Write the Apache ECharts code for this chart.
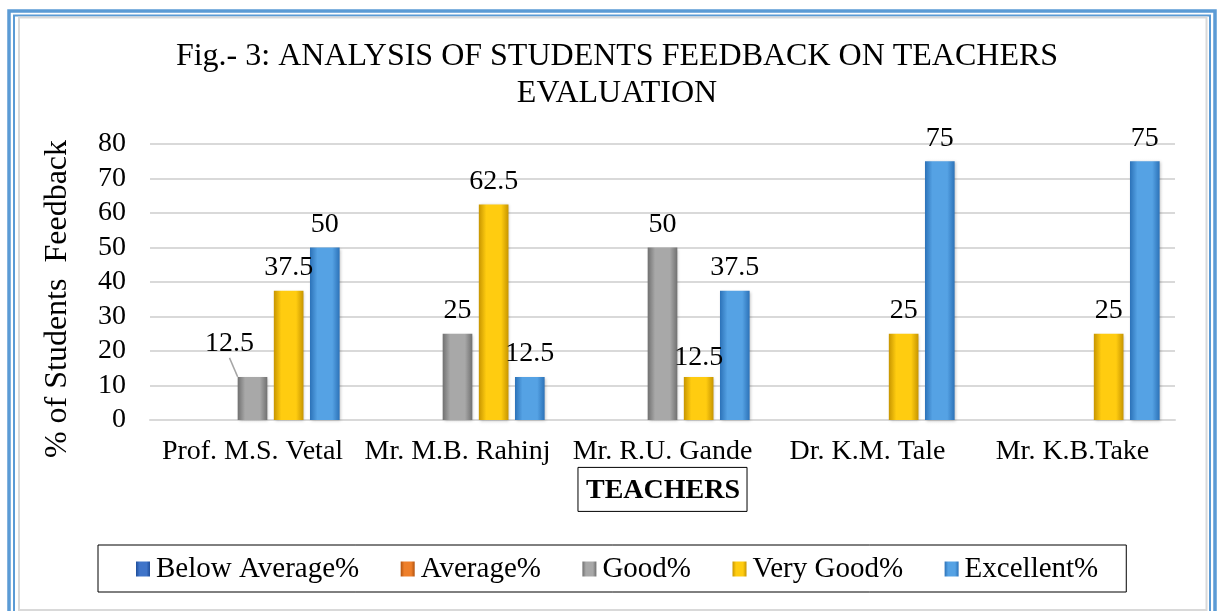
<!DOCTYPE html>
<html>
<head>
<meta charset="utf-8">
<script src="https://cdn.jsdelivr.net/npm/echarts@6/dist/echarts.min.js"></script>
<style>
  html, body { margin: 0; padding: 0; background: #fff; }
  #chart { width: 1217px; height: 611px; }
</style>
</head>
<body>
<div id="chart"></div>
<script>
  // teachers on x axis
  var teachers = ['Prof. M.S. Vetal', 'Mr. M.B. Rahinj', 'Mr. R.U. Gande', 'Dr. K.M. Tale', 'Mr. K.B.Take'];
  var seriesNames = ['Below Average%', 'Average%', 'Good%', 'Very Good%', 'Excellent%'];

  // % values
  var belowAverage = [0, 0, 0, 0, 0];
  var average = [0, 0, 0, 0, 0];
  var good = [12.5, 25, 50, 0, 0];
  var veryGood = [37.5, 62.5, 12.5, 25, 25];
  var excellent = [50, 12.5, 37.5, 75, 75];

  var yTicks = [0, 10, 20, 30, 40, 50, 60, 70, 80];

  var serif = '"Liberation Serif", "Times New Roman", serif';

  // bevel-ish colours: [edge, centre]
  var colours = [
    ['#1f4e9a', '#3f74c9'],
    ['#b2530f', '#ee7f2a'],
    ['#707070', '#a8a8a8'],
    ['#c79500', '#ffcc10'],
    ['#2c72b8', '#55a2e4']
  ];

  function grad(c) {
    return new echarts.graphic.LinearGradient(0, 0, 1, 0, [
      { offset: 0, color: c[0] },
      { offset: 0.25, color: c[1] },
      { offset: 0.75, color: c[1] },
      { offset: 1, color: c[0] }
    ]);
  }

  var allData = [belowAverage, average, good, veryGood, excellent];
  var series = [];
  for (var i = 0; i < allData.length; i++) {
    var items = allData[i].map(function (v) {
      // zero bars get no label, like the excel chart
      return { value: v, label: { show: v !== 0 } };
    });
    if (i === 2) items[0].labelLine = { show: true };  // the 12.5 with a leader line
    series.push({
      name: seriesNames[i],
      type: 'bar',
      data: items,
      barGap: '22%',
      barCategoryGap: '15%',
      itemStyle: {
        color: grad(colours[i]),
        shadowColor: 'rgba(0,0,0,0.25)',
        shadowBlur: 3,
        shadowOffsetX: 1,
        shadowOffsetY: 1
      },
      label: {
        show: true,
        position: 'top',
        distance: 9,
        color: '#000',
        fontFamily: serif,
        fontSize: 28
      },
      labelLine: { show: false, lineStyle: { color: '#a6a6a6', width: 1.5 } },
      labelLayout: (function (idx) {
        return function (p) {
          if (idx === 2 && p.dataIndex === 0) return { dx: -23, dy: -10 };
          if (idx === 3 && p.dataIndex === 2) return { dy: 4 };
          return {};
        };
      })(i)
    });
  }

  var chart = echarts.init(document.getElementById('chart'));
  chart.setOption({
    animation: false,
    backgroundColor: '#fff',
    title: {
      text: 'Fig.- 3: ANALYSIS OF STUDENTS FEEDBACK ON TEACHERS\nEVALUATION',
      left: 612,
      textAlign: 'center',
      top: 33,
      textStyle: {
        fontFamily: serif,
        fontWeight: 'normal',
        fontSize: 32,
        lineHeight: 37,
        color: '#000'
      }
    },
    legend: {
      data: seriesNames,
      left: 98,
      top: 545,
      padding: [9, 28, 8, 38],
      itemGap: 41.5,
      itemWidth: 14,
      itemHeight: 15,
      icon: 'rect',
      borderColor: '#000',
      borderWidth: 1,
      textStyle: { fontFamily: serif, fontSize: 29, lineHeight: 30, color: '#000', padding: [0, 0, 0, 1] }
    },
    grid: { left: 150, right: 42, top: 144, bottom: 191 },
    xAxis: {
      type: 'category',
      data: teachers,
      name: 'TEACHERS',
      nameLocation: 'middle',
      nameGap: 37,
      nameTextStyle: {
        fontFamily: serif,
        fontSize: 28,
        fontWeight: 'bold',
        color: '#000',
        borderColor: '#000',
        borderWidth: 1,
        padding: [9, 7, 7, 8]
      },
      axisLine: { lineStyle: { color: '#d9d9d9', width: 2 } },
      axisTick: { show: false },
      axisLabel: { interval: 0, hideOverlap: false, fontFamily: serif, fontSize: 28, color: '#000', margin: 18 }
    },
    yAxis: {
      type: 'value',
      min: yTicks[0],
      max: yTicks[yTicks.length - 1],
      interval: 10,
      name: '% of Students  Feedback',
      nameLocation: 'middle',
      nameGap: 76,
      nameTextStyle: { fontFamily: serif, fontSize: 32, color: '#000', padding: [0, 34, 0, 0] },
      axisLine: { show: false },
      axisTick: { show: false },
      axisLabel: { fontFamily: serif, fontSize: 28, color: '#000', margin: 24 },
      splitLine: { lineStyle: { color: '#d9d9d9', width: 2 } }
    },
    graphic: [
      { type: 'rect', silent: true, shape: { x: 9, y: 11, width: 1206, height: 640 },
        style: { fill: 'none', stroke: '#5b9bd5', lineWidth: 3.5 } },
      { type: 'rect', silent: true, shape: { x: 14, y: 15.5, width: 1196, height: 630 },
        style: { fill: 'none', stroke: '#5b9bd5', lineWidth: 2 } },
      { type: 'rect', silent: true, shape: { x: 19, y: 17.5, width: 1187.5, height: 592.5 },
        style: { fill: 'none', stroke: '#d9d9d9', lineWidth: 2 } }
    ],
    series: series
  });
</script>
</body>
</html>
